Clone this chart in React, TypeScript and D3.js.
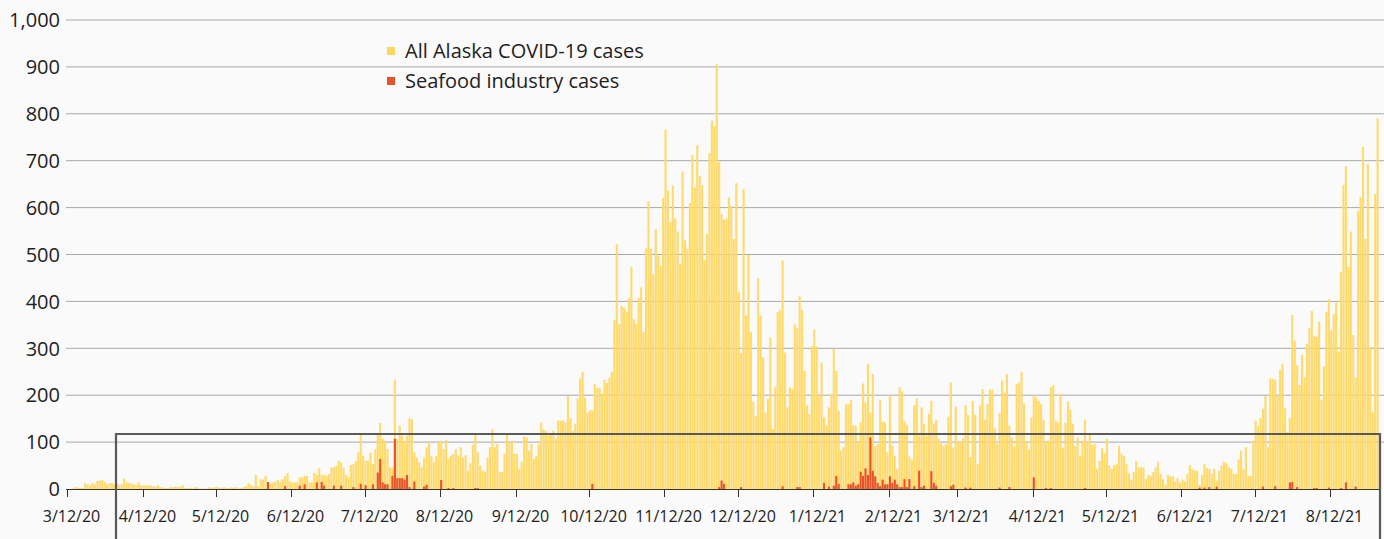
import React from 'react';
import * as d3 from 'd3';

// daily cases, starting 3/12/20 (one value per day)
const startDate = Date.UTC(2020, 2, 12);
const endDate = Date.UTC(2021, 8, 1);

const allAlaskaCases = [
  0, 0, 1, 4, 3, 2, 2, 12, 10, 8, 13, 10, 17, 18, 19, 15, 10, 12, 13, 10, 12, 10, 10, 22, 14, 12, 12, 10, 9, 14,
  8, 8, 8, 8, 7, 6, 5, 8, 4, 3, 2, 2, 5, 4,
  5, 4, 5, 8, 2, 2, 3, 1, 3, 4, 1, 1, 1, 1, 4, 2, 4, 4, 3, 2, 4, 2, 2, 3, 3, 4, 1, 2, 4, 6,
  13, 8, 6, 30, 6, 21, 20, 28, 14, 12, 14, 16, 19, 14, 21, 27, 34, 16, 14,
  14, 14, 25, 25, 28, 28, 14, 14, 34, 30, 44, 30, 30, 28, 32, 46, 46, 50, 60, 57, 45, 30, 25, 51, 53, 60, 78, 115,
  71, 60, 60, 78, 53, 85, 117, 141, 107, 103, 85, 46, 46, 233, 107, 135, 114, 100, 114, 151, 149,
  78, 67, 57, 46, 67, 89, 100, 71, 57, 71, 99, 103, 85, 105, 64, 71, 75, 85, 71, 89,
  67, 72, 39, 55, 94, 115, 78, 50, 39, 37, 67, 89, 127, 89, 96, 36, 36, 75, 115, 99,
  103, 75, 75, 43, 58, 112, 110, 82, 96,
  64, 71, 96, 142, 128, 124, 114, 117, 124, 107, 146, 146, 146, 142, 198, 151, 124, 139, 193, 236,
  250, 195, 163, 168, 168, 224, 215, 215, 203, 233, 226, 238, 250, 361, 522, 352, 391, 387, 378, 407,
  473, 362, 352, 407,
  430, 334, 513, 613, 512, 458, 554, 498, 476, 620, 766, 636, 569, 647, 577, 549, 480, 677, 530, 512,
  610, 712, 643, 733, 668, 648, 489, 544, 716, 785, 773, 906, 697, 586, 574, 577, 622, 604, 533, 652,
  419, 290, 640,
  370, 499, 334, 186, 156, 449, 370, 281, 163, 192, 323, 128, 217, 377, 382, 487, 291, 174, 217, 213,
  352, 343, 411, 382, 252, 178, 160, 304, 340, 304, 199, 270, 153, 135, 174, 203, 299, 252, 167, 82,
  89, 181, 181,
  190, 136, 135, 100, 142, 225, 185, 267, 163, 245, 92, 96, 190, 144, 142, 78, 200, 92, 71, 43,
  217, 208, 144, 136, 69, 63, 179, 193, 114, 174, 139, 114, 160, 188, 139, 147, 107, 97, 92, 96,
  153, 227,
  89, 176, 100, 100, 108, 179, 158, 68, 188, 158, 53, 178, 213, 148, 181, 212, 212, 129, 96, 162,
  231, 205, 245, 135, 110, 91, 224, 227, 250, 183, 100, 84, 153, 200, 195, 188, 181, 148, 100, 103,
  217, 222, 146,
  142, 203, 87, 141, 186, 169, 139, 92, 110, 70, 103, 148, 100, 115, 94, 96, 43, 60, 87, 77,
  107, 50, 43, 51, 53, 92, 75, 70, 53, 34, 20, 36, 60, 46, 46, 46, 21, 30, 28, 36,
  46, 58, 32, 21, 9,
  30, 27, 27, 16, 23, 14, 20, 16, 32, 51, 43, 39, 39, 9, 30, 53, 44, 43, 32, 43,
  18, 39, 50, 58, 55, 46, 43, 32, 32, 63, 82, 43, 89, 28, 28, 103, 146, 134, 151, 171,
  198, 89, 236, 235,
  233, 199, 254, 267, 172, 122, 151, 371, 316, 264, 222, 286, 238, 309, 343, 380, 326, 324, 357, 190,
  262, 378, 405, 338, 373, 398, 293, 463, 648, 688, 473, 549, 328, 238, 593, 622, 729, 533, 693, 302,
  163, 629, 790,
];

// seafood industry cases: day offset from 3/12/20 and count (other days are 0)
const seafoodDays = [
  82, 89, 95, 97, 102, 104, 105, 109, 112, 117, 120, 122, 125, 127, 128, 129, 130, 131, 133, 134,
  135, 136, 137, 138, 139, 140, 142, 146, 147, 153, 156, 158, 167, 168, 215, 267, 268, 269, 276, 293,
  299, 300, 310, 312, 314, 315, 316, 320, 321, 322, 323, 324, 325, 326, 327, 328, 329, 330, 331, 332,
  333, 334, 335, 336, 337, 338, 339, 340, 341, 342, 343, 344, 345, 347, 349, 350, 351, 354, 355, 356,
  362, 363, 368, 370, 382, 386, 396, 401, 403, 417, 464, 466, 468, 471, 490, 495, 501, 502, 504, 511,
  512, 517, 522, 524, 528,
];
const seafoodCases = [
  15, 6, 7, 10, 14, 15, 7, 7, 7, 4, 11, 8, 10, 35, 64, 14, 10, 10, 28, 107,
  23, 23, 23, 20, 30, 4, 16, 5, 9, 19, 2, 2, 2, 2, 11, 4, 18, 11, 4, 6,
  4, 4, 13, 5, 7, 28, 11, 10, 10, 14, 7, 10, 37, 28, 44, 30, 110, 39, 27, 13,
  6, 20, 10, 10, 27, 13, 20, 10, 4, 4, 21, 4, 21, 6, 39, 4, 7, 38, 13, 7,
  6, 9, 3, 3, 3, 4, 25, 2, 2, 2, 3, 3, 4, 5, 5, 6, 14, 15, 4, 2,
  2, 3, 2, 14, 5,
];

const yTicks = [0, 100, 200, 300, 400, 500, 600, 700, 800, 900, 1000];
const tickMonths = [
  [2020, 2], [2020, 3], [2020, 4], [2020, 5], [2020, 6], [2020, 7], [2020, 8], [2020, 9], [2020, 10],
  [2020, 11], [2021, 0], [2021, 1], [2021, 2], [2021, 3], [2021, 4], [2021, 5], [2021, 6], [2021, 7],
];

const legendItems = [
  { label: 'All Alaska COVID-19 cases', color: '#fdd65f' },
  { label: 'Seafood industry cases', color: '#e8532b' },
];

const W = 1384;
const H = 539;
const DAY = 86400000;

export default function App() {
  const x = d3.scaleUtc().domain([startDate, endDate]).range([67, 1379]);
  const y = d3.scaleLinear().domain([0, 1000]).range([489, 20]);
  const dayW = x(startDate + DAY) - x(startDate);
  const barW = dayW - 0.3;
  const fmtTick = d3.utcFormat('%-m/%-d/%y');
  const font = '"Open Sans", "Noto Sans", sans-serif';

  return (
    <div style={{ position: 'fixed', left: 0, top: 0, width: W, height: H, background: '#fafafb' }}>
      <svg width={W} height={H} style={{ display: 'block', fontFamily: font }}>
        {yTicks.map(t => (
          <g key={t}>
            {t > 0 && <line x1={66} x2={W} y1={y(t)} y2={y(t)} stroke="#a8a8a8" strokeWidth={1} />}
            <text x={60} y={y(t)} dy="0.36em" textAnchor="end" fontSize={20} fill="#222">
              {d3.format(',')(t)}
            </text>
          </g>
        ))}
        <g fill="#ffd966" fillOpacity={0.96}>
          {allAlaskaCases.map((v, i) => (
            <rect key={i} x={x(startDate + i * DAY)} width={barW} y={y(v)} height={y(0) - y(v)} />
          ))}
        </g>
        <g fill="#e8532b">
          {seafoodDays.map((d, i) => (
            <rect key={i} x={x(startDate + d * DAY)} width={barW} y={y(seafoodCases[i])} height={y(0) - y(seafoodCases[i])} />
          ))}
        </g>
        <line x1={66} x2={1380} y1={489.5} y2={489.5} stroke="#333" strokeWidth={1.2} />
        {tickMonths.map(([yr, m]) => {
          const d = Date.UTC(yr, m, 12);
          const px = Math.round(x(d)) + 0.5;
          return (
            <g key={`${yr}-${m}`}>
              <line x1={px} x2={px} y1={489} y2={497} stroke="#333" strokeWidth={1} />
              <text x={px + 4} y={522} textAnchor="middle" fontSize={16} fill="#222">
                {fmtTick(new Date(d))}
              </text>
            </g>
          );
        })}
        <path d={`M116,${H + 2}V434H1380V${H + 2}`} fill="none" stroke="#5a5a5a" strokeWidth={2.2} />
        {legendItems.map((item, i) => (
          <g key={item.label} transform={`translate(387, ${51 + i * 30})`}>
            <rect x={0} y={-4} width={8} height={8} fill={item.color} />
            <text x={18} y={0} dy="0.35em" fontSize={20} fill="#222">{item.label}</text>
          </g>
        ))}
      </svg>
    </div>
  );
}
